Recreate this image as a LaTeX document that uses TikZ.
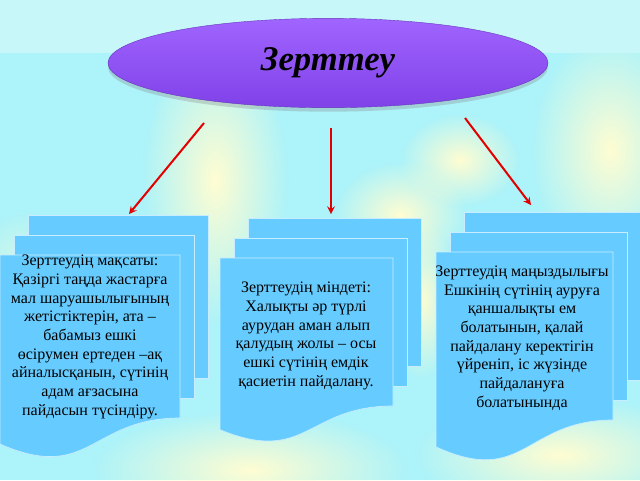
\documentclass[tikz,border=0pt]{standalone}
\usepackage{fontspec}
\setmainfont{Liberation Serif}
\usetikzlibrary{positioning}
\usetikzlibrary{shapes.geometric}
\usetikzlibrary{fadings}
\usetikzlibrary{shadows}
\usetikzlibrary{arrows}
\definecolor{bgcyan}{RGB}{172,243,250}
\definecolor{bandcyan}{RGB}{200,247,250}
\definecolor{glow}{RGB}{255,253,210}
\definecolor{docblue}{RGB}{102,204,255}
\definecolor{violettop}{RGB}{160,100,255}
\definecolor{violetmid}{RGB}{155,92,255}
\definecolor{violetbot}{RGB}{128,66,232}
\tikzfading[name=glowfade, inner color=transparent!0, outer color=transparent!100]
\tikzset{
  doc/.style       = { fill=docblue, draw=white!65!docblue, line width=0.5pt },
  doctext/.style   = { align=center, font=\fontsize{12}{14}\selectfont },
  heading/.style   = { ellipse, minimum width=330pt, minimum height=67pt,
                       top color=violettop, middle color=violetmid, bottom color=violetbot,
                       draw=violetbot!80!black, line width=0.3pt,
                       drop shadow={shadow xshift=0pt, shadow yshift=-3pt, opacity=0.3},
                       font=\fontsize{26}{30}\selectfont\bfseries\itshape },
  link/.style      = { ->, red!90!black, line width=1.5pt },
  streak/.style    = { glow, path fading=glowfade },
}
% three stacked pages, origin at the top left of the front page
\tikzset{
  pics/docstack/.style n args={2}{code={
    \path[doc] (28,-40) rectangle ({28+#1},{-40+#2});
    \path[doc] (14,-20) rectangle ({14+#1},{-20+#2});
    \path[doc] (0,0) -- (#1,0) -- (#1,#2)
      .. controls ({0.5*#1},#2) and ({0.5*#1},{1.4*#2}) .. (0,{1.16*#2}) -- cycle;
  }}
}

\begin{document}
\begin{tikzpicture}[x=0.75pt,y=-0.75pt,>=stealth]
  \useasboundingbox (0,0) rectangle (640,480);

  % background
  \begin{scope}
    \clip (0,0) rectangle (640,480);
    \fill[bgcyan] (0,0) rectangle (640,480);
    \fill[streak] (215,180) ellipse [x radius=55pt, y radius=110pt];
    \fill[streak] (400,215) ellipse [x radius=50pt, y radius=40pt];
    \fill[streak] (460,160) ellipse [x radius=45pt, y radius=35pt];
    \fill[streak] (610,150) ellipse [x radius=60pt, y radius=90pt];
    \fill[streak] (20,330) ellipse [x radius=40pt, y radius=90pt];
    \fill[streak] (250,470) ellipse [x radius=120pt, y radius=45pt];
    \fill[streak] (560,455) ellipse [x radius=110pt, y radius=45pt];
    \fill[streak] (420,300) ellipse [x radius=30pt, y radius=60pt];
    \fill[bandcyan] (0,0) rectangle (640,53);
  \end{scope}

  \node (title) [heading] at (328,63) {Зерттеу};

  \pic at (0,255)   {docstack={180}{163}};
  \pic at (220,258) {docstack={173}{148}};
  \pic at (436,252) {docstack={177}{168}};

  \node (goal)  [doctext] at (90,337)  {Зерттеудің мақсаты:\\Қазіргі таңда жастарға\\ мал шаруашылығының\\жетістіктерін, ата --\\бабамыз ешкі\\өсірумен ертеден --ақ\\айналысқанын, сүтінің\\адам ағзасына\\пайдасын түсіндіру.};
  \node (task)  [doctext] at (306,336) {Зерттеудің міндеті:\\Халықты әр түрлі\\ аурудан аман алып\\қалудың жолы -- осы\\ешкі сүтінің емдік\\қасиетін пайдалану.};
  \node (value) [doctext] at (522,338) {Зерттеудің маңыздылығы\\Ешкінің сүтінің ауруға\\қаншалықты ем\\болатынын, қалай\\ пайдалану керектігін\\үйреніп, іс жүзінде\\пайдалануға\\болатынында};

  \coordinate (goalFrom)  at (204,123);
  \coordinate (goalTo)    at (129,214);
  \coordinate (taskFrom)  at (331,128);
  \coordinate (taskTo)    at (331,214);
  \coordinate (valueFrom) at (465,118);
  \coordinate (valueTo)   at (531,205);

  \draw [link] (goalFrom)  -- (goalTo);
  \draw [link] (taskFrom)  -- (taskTo);
  \draw [link] (valueFrom) -- (valueTo);
\end{tikzpicture}
\end{document}
